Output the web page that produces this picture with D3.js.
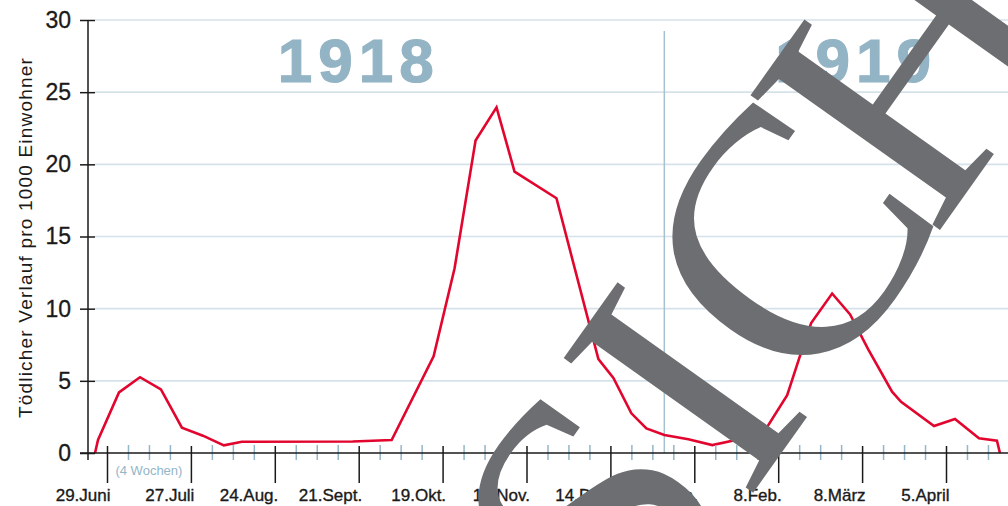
<!DOCTYPE html>
<html>
<head>
<meta charset="utf-8">
<script src="https://cdn.jsdelivr.net/npm/d3@7"></script>
<style>
  body { margin: 0; background: #fff; }
  svg { display: block; font-family: "Liberation Sans", Arial, sans-serif; }
</style>
</head>
<body>
<div id="root"></div>
<script>
// weekly death rate per 1000 inhabitants
const dates = [
  "1918-06-25", "1918-06-26", "1918-07-03", "1918-07-10", "1918-07-17",
  "1918-07-24", "1918-07-31", "1918-08-07", "1918-08-13", "1918-09-19",
  "1918-10-02", "1918-10-16", "1918-10-23", "1918-10-30", "1918-11-06",
  "1918-11-12", "1918-11-26", "1918-12-10", "1918-12-15", "1918-12-21",
  "1918-12-26", "1919-01-01", "1919-01-09", "1919-01-17", "1919-01-26",
  "1919-02-04", "1919-02-11", "1919-02-15", "1919-02-19", "1919-02-26",
  "1919-03-04", "1919-03-10", "1919-03-18", "1919-03-21", "1919-04-01",
  "1919-04-08", "1919-04-16", "1919-04-22", "1919-04-23"
];
const values = [
  0, 0.9, 4.2, 5.25, 4.4,
  1.75, 1.2, 0.53, 0.78, 0.8,
  0.9, 6.7, 12.8, 21.65, 23.95,
  19.5, 17.65, 6.5, 5.2, 2.75,
  1.7, 1.25, 0.95, 0.55, 0.95,
  1.7, 4.0, 6.55, 9.0, 11.05,
  9.6, 7.2, 4.25, 3.55, 1.87,
  2.36, 1.02, 0.85, 0
];

const majorLabels = ["29.Juni", "27.Juli", "24.Aug.", "21.Sept.", "19.Okt.", "16.Nov.",
  "14.Dez.", "11.Jan.", "8.Feb.", "8.März", "5.April"];
const yTicks = [0, 5, 10, 15, 20, 25, 30];
const years = [
  { label: "1918", at: "1918-09-20" },
  { label: "1919", at: "1919-03-05" }
];
const yearBreak = "1919-01-01";
const yTitle = "Tödlicher Verlauf pro 1000 Einwohner";
const watermark = ["S", "I", "C", "H"];

const width = 1008, height = 506;
const margin = { top: 20, left: 88, bottom: 53 };
const parse = d3.utcParse("%Y-%m-%d");
const ink = "#1a1a1a";

const firstTick = parse("1918-06-29");
const majorDates = majorLabels.map((_, i) => d3.utcDay.offset(firstTick, 28 * i));
const minorDates = d3.range(1, 43).filter(i => i % 4 !== 0)
  .map(i => d3.utcDay.offset(firstTick, 7 * i));

const x = d3.scaleUtc()
  .domain([firstTick, majorDates[majorDates.length - 1]])
  .range([107, 946]);
const y = d3.scaleLinear().domain([0, 30]).range([height - margin.bottom, margin.top]);

const data = dates.map((d, i) => ({ date: parse(d), value: values[i] }));

const svg = d3.select("#root").append("svg")
  .attr("width", width)
  .attr("height", height)
  .attr("viewBox", [0, 0, width, height]);

// gridlines
svg.append("g")
  .selectAll("line")
  .data(yTicks.filter(t => t > 0))
  .join("line")
  .attr("x1", margin.left + 7)
  .attr("x2", width)
  .attr("y1", d => y(d))
  .attr("y2", d => y(d))
  .attr("stroke", "#d6e2ea")
  .attr("stroke-width", 1.6);

// year divider
svg.append("line")
  .attr("x1", x(parse(yearBreak)))
  .attr("x2", x(parse(yearBreak)))
  .attr("y1", 31)
  .attr("y2", y(0))
  .attr("stroke", "#a6c2d0")
  .attr("stroke-width", 1.5);

// year labels
const yearSpacing = 6;
svg.append("g")
  .selectAll("text")
  .data(years)
  .join("text")
  .attr("x", d => x(parse(d.at)))
  .attr("dx", yearSpacing / 2)
  .attr("y", 82)
  .attr("text-anchor", "middle")
  .attr("font-size", 62)
  .attr("font-weight", "bold")
  .attr("letter-spacing", yearSpacing)
  .attr("fill", "#93b4c5")
  .attr("stroke", "#93b4c5")
  .attr("stroke-width", 1.2)
  .text(d => d.label);

// the curve
const line = d3.line()
  .x(d => x(d.date))
  .y(d => y(d.value));

svg.append("path")
  .datum(data)
  .attr("fill", "none")
  .attr("stroke", "#e2062f")
  .attr("stroke-width", 2.6)
  .attr("stroke-linejoin", "miter")
  .attr("d", line);

// y axis
const yAxis = d3.axisLeft(y).tickValues(yTicks).tickSize(8).tickPadding(9);
const gy = svg.append("g")
  .attr("transform", `translate(${margin.left},0)`)
  .call(yAxis);
gy.select(".domain").remove();
gy.selectAll(".tick line").attr("x2", -8).attr("x1", 7)
  .attr("stroke", ink).attr("stroke-width", 1.5);
gy.selectAll(".tick text")
  .attr("font-size", 23)
  .attr("font-family", "Liberation Sans, Arial, sans-serif")
  .attr("fill", ink)
  .attr("stroke", ink)
  .attr("stroke-width", 0.3);
svg.append("line")
  .attr("x1", margin.left).attr("x2", margin.left)
  .attr("y1", margin.top).attr("y2", y(0) + 7)
  .attr("stroke", ink).attr("stroke-width", 1.5);

svg.append("text")
  .attr("transform", `translate(32,${(margin.top + y(0)) / 2 + 1}) rotate(-90)`)
  .attr("text-anchor", "middle")
  .attr("font-size", 19)
  .attr("letter-spacing", 1.2)
  .attr("fill", ink)
  .text(yTitle);

// x axis: minor (weekly) ticks
const xMinor = d3.axisBottom(x).tickValues(minorDates).tickSize(7).tickFormat("");
const gxm = svg.append("g")
  .attr("transform", `translate(0,${y(0)})`)
  .call(xMinor);
gxm.select(".domain").remove();
gxm.selectAll(".tick line").attr("y1", -8)
  .attr("stroke", "#93b6c8").attr("stroke-width", 1.5);

// x axis: 4-week ticks with labels
const xMajor = d3.axisBottom(x).tickValues(majorDates).tickSize(30)
  .tickFormat((d, i) => majorLabels[i]);
const gx = svg.append("g")
  .attr("transform", `translate(0,${y(0)})`)
  .call(xMajor);
gx.select(".domain").remove();
gx.selectAll(".tick line").attr("y1", -7)
  .attr("stroke", ink).attr("stroke-width", 1.5);
gx.selectAll(".tick text")
  .attr("y", 48)
  .attr("dy", 0)
  .attr("dx", 3)
  .attr("text-anchor", "end")
  .attr("font-size", 17)
  .attr("font-family", "Liberation Sans, Arial, sans-serif")
  .attr("fill", ink)
  .attr("stroke", ink)
  .attr("stroke-width", 0.35);

svg.append("line")
  .attr("x1", margin.left - 8).attr("x2", width)
  .attr("y1", y(0)).attr("y2", y(0))
  .attr("stroke", ink).attr("stroke-width", 1.5);

svg.append("text")
  .attr("x", (x(majorDates[0]) + x(majorDates[1])) / 2)
  .attr("y", 475)
  .attr("text-anchor", "middle")
  .attr("font-size", 13)
  .attr("fill", "#93b6c8")
  .text("(4 Wochen)");

// watermark stamp across the chart
const wm = svg.append("g")
  .attr("transform", "translate(780,455) rotate(-54.6)");
const wmText = wm.append("text")
  .attr("font-family", "Liberation Serif, Times New Roman, serif")
  .attr("font-size", 355)
  .attr("fill", "#6d6e71");
wmText.selectAll("tspan")
  .data(watermark)
  .join("tspan")
  .attr("dx", (d, i) => (i === 3 ? -30 : 0))
  .text(d => d);
const node = wmText.node();
const sW = node.getSubStringLength(0, 1);
const iW = node.getSubStringLength(1, 1);
wmText.attr("x", -(sW + iW / 2));
</script>
</body>
</html>
